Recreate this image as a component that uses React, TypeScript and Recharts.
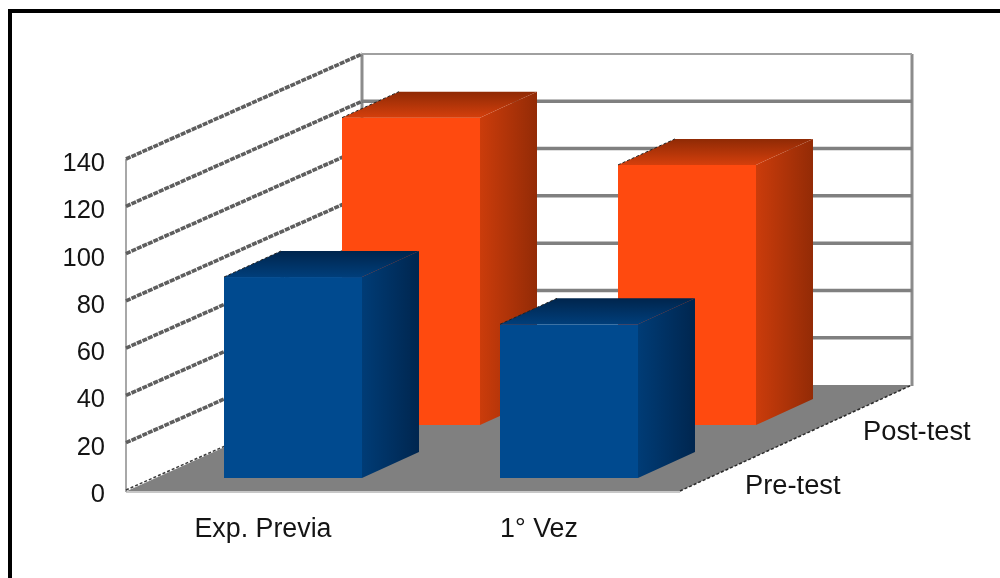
import { Bar, ComposedChart, ReferenceArea, XAxis, YAxis } from 'recharts'

const CATEGORIES = ['Exp. Previa', '1° Vez']
const PRE_TEST = [85, 65]
const POST_TEST = [130, 110]
const Y_TICKS = [0, 20, 40, 60, 80, 100, 120, 140]
const SERIES_NAMES = ['Pre-test', 'Post-test']

const chartData = CATEGORIES.map((name, i) => ({
  name,
  pre: PRE_TEST[i],
  post: POST_TEST[i],
}))

const FONT = '"Liberation Sans", Arial, sans-serif'
const TEXT_COLOR = '#141414'

// oblique projection of the floor: how far the back wall sits from the front
const WALL_DX = 235
const WALL_DY = 105
const BAR_DX = 57
const BAR_DY = 26

// x/y shift of each series along the depth axis
const PRE_SHIFT = { dx: 28, dy: 12 }
const POST_SHIFT = { dx: 146, dy: 65 }

const Walls = ({ x, y, width, height }: any) => {
  const bottom = y + height
  const right = x + width
  const yOf = (v: number) => bottom - (v / 140) * height
  const backTop = y - WALL_DY
  return (
    <g>
      <polygon
        points={`${x},${bottom + 1} ${right + 1},${bottom + 1} ${right + WALL_DX - 2},${bottom - WALL_DY} ${x + WALL_DX},${bottom - WALL_DY}`}
        fill="#808080"
      />
      <line x1={x - 1} y1={bottom + 2} x2={right + 1} y2={bottom + 2} stroke="#b5b5b5" strokeWidth={1.5} />
      <line x1={right + 1} y1={bottom + 1} x2={right + WALL_DX - 2} y2={bottom - WALL_DY} stroke="#2a2a2a" strokeWidth={1.5} strokeDasharray="3 2" />
      <line x1={x - 1} y1={y} x2={x - 1} y2={bottom + 2} stroke="#a8a8a8" strokeWidth={2} />
      <line x1={x + WALL_DX} y1={backTop} x2={x + WALL_DX} y2={bottom - WALL_DY} stroke="#8c8c8c" strokeWidth={3} />
      <line x1={right + WALL_DX - 2} y1={backTop} x2={right + WALL_DX - 2} y2={bottom - WALL_DY + 1} stroke="#8c8c8c" strokeWidth={3} />
      {Y_TICKS.map((v) => {
        const ty = yOf(v)
        return (
          <g key={v}>
            {v > 0 && (
              <line
                x1={x + WALL_DX}
                y1={ty - WALL_DY}
                x2={right + WALL_DX - 2}
                y2={ty - WALL_DY}
                stroke={v === 140 ? '#a0a0a0' : '#808080'}
                strokeWidth={v === 140 ? 2 : 3.5}
              />
            )}
            <line
              x1={x - 1}
              y1={ty}
              x2={x + WALL_DX}
              y2={ty - WALL_DY}
              stroke={v === 0 ? '#3a3a3a' : '#5e5e5e'}
              strokeWidth={v === 0 ? 1.5 : 3.6}
              strokeDasharray={v === 0 ? '3 2' : '5 1'}
            />
          </g>
        )
      })}
      <text x={745} y={bottom + 4} fontFamily={FONT} fontSize={27.3} fill={TEXT_COLOR}>
        {SERIES_NAMES[0]}
      </text>
      <text x={863} y={bottom - 50} fontFamily={FONT} fontSize={27.3} fill={TEXT_COLOR}>
        {SERIES_NAMES[1]}
      </text>
    </g>
  )
}

const makeBox =
  (shift: { dx: number; dy: number }, front: string, sideId: string, topId: string) =>
  ({ x, y, width, height }: any) => {
    const l = x + shift.dx
    const r = l + width
    const t = y - shift.dy
    const b = t + height
    return (
      <g>
        <rect x={l} y={t} width={width} height={height} fill={front} />
        <polygon
          points={`${r},${t} ${r + BAR_DX},${t - BAR_DY} ${r + BAR_DX},${b - BAR_DY} ${r},${b}`}
          fill={`url(#${sideId})`}
        />
        <polygon
          points={`${l},${t} ${l + BAR_DX},${t - BAR_DY} ${r + BAR_DX},${t - BAR_DY} ${r},${t}`}
          fill={`url(#${topId})`}
        />
        <line x1={l} y1={t} x2={l + BAR_DX} y2={t - BAR_DY} stroke="#222" strokeWidth={1} strokeDasharray="3 2" />
      </g>
    )
  }

const YTick = ({ x, y, payload }: any) => (
  <text x={x} y={y + 12} textAnchor="end" fontFamily={FONT} fontSize={25.5} fill={TEXT_COLOR}>
    {payload.value}
  </text>
)

const XTick = ({ x, y, payload }: any) => (
  <text x={x - 2} y={y + 39} textAnchor="middle" fontFamily={FONT} fontSize={26.8} fill={TEXT_COLOR}>
    {payload.value}
  </text>
)

export default function App() {
  return (
    <div
      style={{
        position: 'absolute',
        left: 0,
        top: 0,
        width: 1000,
        height: 578,
        overflow: 'hidden',
        background: '#fff',
      }}
    >
      <div style={{ position: 'absolute', left: 8, top: 9, right: 0, height: 4, background: '#000' }} />
      <div style={{ position: 'absolute', left: 8, top: 9, bottom: 0, width: 4, background: '#000' }} />
      <ComposedChart
        width={1000}
        height={578}
        data={chartData}
        margin={{ top: 159, right: 321, bottom: 0, left: 0 }}
        barSize={138}
        barGap={-138}
        style={{ position: 'absolute', left: 0, top: 0, filter: 'blur(0.4px)' }}
      >
        <defs>
          <linearGradient id="orangeSide" x1="0" y1="0" x2="1" y2="0">
            <stop offset="0%" stopColor="#cb3c0b" />
            <stop offset="100%" stopColor="#932b06" />
          </linearGradient>
          <linearGradient id="orangeTop" x1="0" y1="1" x2="0" y2="0">
            <stop offset="0%" stopColor="#d43f0c" />
            <stop offset="100%" stopColor="#8f2a05" />
          </linearGradient>
          <linearGradient id="blueSide" x1="0" y1="0" x2="1" y2="0">
            <stop offset="0%" stopColor="#003c76" />
            <stop offset="100%" stopColor="#00264f" />
          </linearGradient>
          <linearGradient id="blueTop" x1="0" y1="1" x2="0" y2="0">
            <stop offset="0%" stopColor="#003e7a" />
            <stop offset="100%" stopColor="#00254d" />
          </linearGradient>
        </defs>
        <XAxis
          dataKey="name"
          height={88}
          axisLine={false}
          tickLine={false}
          tick={<XTick />}
          interval={0}
        />
        <YAxis
          domain={[0, 140]}
          ticks={Y_TICKS}
          width={127}
          axisLine={false}
          tickLine={false}
          tickMargin={16}
          tick={<YTick />}
        />
        <ReferenceArea y1={0} y2={140} ifOverflow="visible" shape={<Walls />} />
        <Bar
          dataKey="post"
          fill="#ff4a0f"
          isAnimationActive={false}
          shape={makeBox(POST_SHIFT, '#ff4a0f', 'orangeSide', 'orangeTop')}
        />
        <Bar
          dataKey="pre"
          fill="#004a8f"
          isAnimationActive={false}
          shape={makeBox(PRE_SHIFT, '#004a8f', 'blueSide', 'blueTop')}
        />
      </ComposedChart>
    </div>
  )
}
